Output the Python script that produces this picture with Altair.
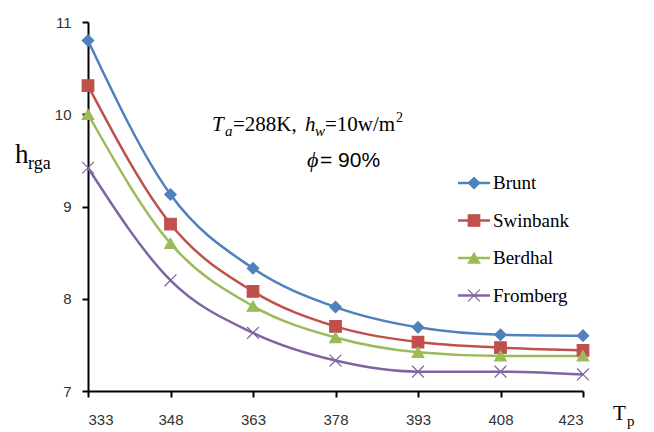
import altair as alt
import pandas as pd

# ---- data ----
tp = [333, 348, 363, 378, 393, 408, 423]
names = ["Brunt", "Swinbank", "Berdhal", "Fromberg"]
brunt = [10.80, 9.13, 8.33, 7.91, 7.69, 7.61, 7.60]
swinbank = [10.31, 8.81, 8.08, 7.70, 7.53, 7.47, 7.44]
berdhal = [10.00, 8.60, 7.92, 7.58, 7.42, 7.38, 7.38]
fromberg = [9.42, 8.20, 7.63, 7.33, 7.21, 7.21, 7.18]
colors = ["#4F81BD", "#C0504D", "#9BBB59", "#8064A2"]
shapes = ["diamond", "square", "triangle-up", "M-1,-1L1,1M-1,1L1,-1"]
sizes = [130, 140, 150, 196]
x_ticks = [333, 348, 363, 378, 393, 408, 423]
y_ticks = [7, 8, 9, 10, 11]

rows = []
for name, vals in zip(names, [brunt, swinbank, berdhal, fromberg]):
    for x, v in zip(tp, vals):
        rows.append({"series": name, "Tp": x, "h": v})
df = pd.DataFrame(rows)
leg = pd.DataFrame({"series": names, "row": list(range(len(names)))})

cscale = alt.Scale(domain=names, range=colors)
sscale = alt.Scale(domain=names, range=shapes)
zscale = alt.Scale(domain=names, range=sizes)

SERIF = "Liberation Serif"
SANS = "Liberation Sans"

xenc = alt.X("Tp:Q", scale=alt.Scale(domain=[333, 423], nice=False, zero=False),
             axis=alt.Axis(values=x_ticks, title=None, grid=False, domainColor="black",
                           domainWidth=2, tickColor="black", tickWidth=2, tickSize=6,
                           labelPadding=15, labelFont=SANS, labelFontSize=15,
                           labelColor="#333333", format="d"))
yenc = alt.Y("h:Q", scale=alt.Scale(domain=[7, 11], nice=False, zero=False),
             axis=alt.Axis(values=y_ticks, title=None, grid=False, domainColor="black",
                           domainWidth=2, tickColor="black", tickWidth=2, tickSize=6,
                           labelPadding=11, labelFont=SANS, labelFontSize=15,
                           labelColor="#333333", format="d"))

base = alt.Chart(df)
lines = base.mark_line(interpolate="monotone", strokeWidth=2.5).encode(
    x=xenc, y=yenc,
    color=alt.Color("series:N", scale=cscale, legend=None),
    detail="series:N",
)
points = base.mark_point(opacity=1, strokeWidth=1.2, fillOpacity=1).encode(
    x="Tp:Q", y="h:Q",
    color=alt.Color("series:N", scale=cscale, legend=None),
    fill=alt.Fill("series:N", scale=cscale, legend=None),
    shape=alt.Shape("series:N", scale=sscale, legend=None),
    size=alt.Size("series:N", scale=zscale, legend=None),
)

# ---- manual legend ----
lbase = alt.Chart(leg).transform_calculate(ly="161 + 37.5 * datum.row")
leg_rule = lbase.mark_rule(strokeWidth=2.5).encode(
    x=alt.value(370), x2=alt.value(402), y=alt.Y("ly:Q", scale=None),
    color=alt.Color("series:N", scale=cscale, legend=None))
leg_pt = lbase.mark_point(opacity=1, strokeWidth=1.2, fillOpacity=1).encode(
    x=alt.value(386), y=alt.Y("ly:Q", scale=None),
    color=alt.Color("series:N", scale=cscale, legend=None),
    fill=alt.Fill("series:N", scale=cscale, legend=None),
    shape=alt.Shape("series:N", scale=sscale, legend=None),
    size=alt.Size("series:N", scale=zscale, legend=None))


# ---- annotations (positions relative to plot origin at 88,22) ----
def txt(s, x, y, size, font=SERIF, style="normal"):
    return alt.Chart(pd.DataFrame({"t": [s]})).mark_text(
        align="left", baseline="alphabetic", font=font, fontSize=size, fontStyle=style,
        color="black").encode(x=alt.value(x), y=alt.value(y), text="t:N")


leg_txt = [txt(n, 405, 161 + 37.5 * i + 6, 19) for i, n in enumerate(names)]

ann = [
    txt("T", 124, 109, 21, style="italic"),
    txt("a", 137, 114, 15, style="italic"),
    txt("=288K,", 145, 109, 21),
    txt("h", 217, 109, 21, style="italic"),
    txt("w", 227, 114, 15, style="italic"),
    txt("=10w/m", 237, 109, 21),
    txt("2", 308, 100, 14),
    txt("ϕ", 219, 145, 22, style="italic"),
    txt("= 90%", 232, 145, 21, font=SANS),
    txt("h", -73, 141, 27),
    txt("rga", -60, 147, 18),
    txt("T", 525, 398, 21),
    txt("p", 539, 404, 15),
]

chart = alt.layer(lines, points, leg_rule, leg_pt, *leg_txt, *ann).properties(
    width=495, height=369,
    padding={"left": 80, "top": 14, "right": 55, "bottom": 40},
    autosize=alt.AutoSizeParams(type="none"),
    background="white",
).configure_view(stroke=None)

chart.save("out.html", embed_options={"renderer": "svg", "actions": False})
